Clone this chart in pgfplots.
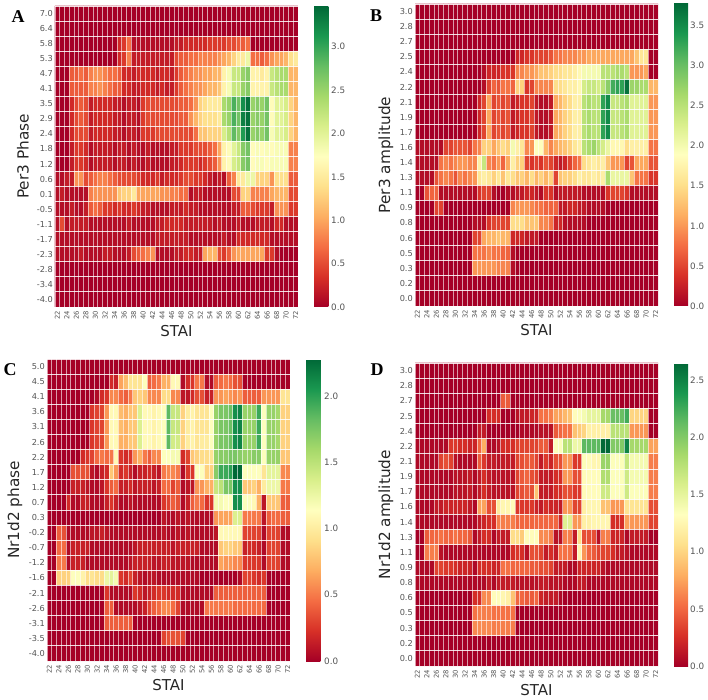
\documentclass[border=0pt]{standalone}
\usepackage{fontspec}
\setmainfont{DejaVu Sans}
\newfontfamily\letterfont{Liberation Serif}
\usepackage{pgfplots}
\pgfplotsset{compat=1.18}
\definecolor{ticktxt}{gray}{0.33}
\pgfplotsset{colormap={RdYlGn}{rgb255=(165,0,38) rgb255=(215,48,39) rgb255=(244,109,67) rgb255=(253,174,97) rgb255=(254,224,139) rgb255=(255,255,191) rgb255=(217,239,139) rgb255=(166,217,106) rgb255=(102,189,99) rgb255=(26,152,80) rgb255=(0,104,55)}}
\newcount\rowc \newcount\cellc
\newcommand\startpanel{\gdef\cur{}\global\rowc=19 }
\newcommand\hr[1]{\global\cellc=0
 \foreach \v in {#1}{\ifnum\cellc<51 \global\advance\cellc by 1 \xdef\cur{\cur (\the\numexpr\cellc+21\relax,\the\rowc)[\v]}\fi}
 \loop\ifnum\cellc<51 \global\advance\cellc by 1 \xdef\cur{\cur (\the\numexpr\cellc+21\relax,\the\rowc)[0]}\repeat
 \global\advance\rowc by -1 }
% Panel A: cell values in units of 0.1, rows from top to bottom, columns STAI 22..72
\startpanel
\hr{0}
\hr{0}
\hr{0,0,0,0,0,0,0,0,0,0, 0,0,0,3,4,7,1,1,1,1, 1,1,1,1,1,2,2,3,3,3, 3,3,4,4,4,4,5,5,6,6, 7}
\hr{0,0,0,0,0,0,0,0,0,0, 0,0,0,3,4,8,2,2,2,2, 2,2,2,2,2,5,6,6,7,7, 8,8,8,8,9,10,11,13,15,15, 19,7,7,6,7,9,10,10,11,14, 15}
\hr{0,0,0,6,6,7,6,8,9,9, 8,7,7,6,3,3,2,3,3,3, 3,2,3,3,2,4,6,7,8,9, 9,10,10,11,11,16,18,22,22,25, 26,16,16,15,16,22,23,24,24,11, 11}
\hr{0,0,0,6,6,6,6,8,8,9, 8,7,6,6,3,3,2,2,3,3, 3,2,3,2,2,4,6,7,8,9, 9,10,11,11,12,16,18,22,22,25, 26,16,16,16,16,22,23,24,24,11, 11}
\hr{0,0,0,3,5,6,5,2,3,3, 3,3,2,2,1,2,2,1,4,5, 5,5,5,5,5,5,6,6,7,9, 13,14,15,15,15,24,25,29,27,32, 34,25,26,25,27,17,20,20,21,13, 11}
\hr{0,0,0,3,5,6,5,2,3,3, 3,3,2,2,1,2,2,1,4,5, 5,5,5,5,5,5,6,6,9,11, 13,14,14,14,15,24,25,29,27,33, 34,25,26,25,27,17,20,20,21,13, 11}
\hr{0,0,0,3,5,5,5,2,3,3, 3,3,2,2,1,2,2,1,4,4, 4,5,5,5,5,5,5,5,5,7, 12,12,13,13,13,21,23,28,26,31, 34,25,26,25,27,18,20,20,21,13, 11}
\hr{0,0,0,2,4,4,3,1,2,2, 2,2,1,2,2,1,2,1,1,2, 1,1,1,1,2,2,4,4,4,5, 5,5,6,7,10,16,17,20,22,26, 27,17,18,17,18,17,18,18,18,8, 8}
\hr{0,0,0,2,4,4,3,1,2,2, 2,2,1,2,2,1,2,1,1,2, 1,1,1,1,2,2,3,4,4,4, 3,4,5,6,9,16,17,21,22,26, 27,17,18,18,17,18,18,18,18,8, 8}
\hr{1,1,2,2,9,9,5,6,7,8, 8,7,6,5,5,5,5,4,3,3, 3,4,2,3,3,3,4,5,5,4, 4,3,2,1,2,1,6,8,15,15, 19,19,13,13,13,9,14,14,14,6, 6}
\hr{1,2,1,1,1,1,1,8,9,9, 9,9,9,12,13,13,15,10,10,10, 10,10,9,9,8,8,7,7,1,2, 2,1,1,1,1,1,1,5,5,13, 13,8,8,8,8,10,11,11,11,5, 5}
\hr{1,1,1,2,1,1,2,6,7,6, 4,4,3,4,3,3,4,3,2,2, 1,1,1,1,2,2,2,3,2,2, 1,1,1,1,1,1,1,2,2,6, 6,5,4,4,4,2,9,9,9,4, 4}
\hr{1,5,1,2,2,2,2,1,1,1, 1,1,1,1,1,2,1,1,1,1, 1,2,2,3,3,3,3,2,2,2, 2,2,2,1,2,1,1,1,2,1, 1,1,2,2,2,1,3,3,1,1, 1}
\hr{1,1,1,1,1,1,1,1,1,1, 1,1,1,1,1,1,1,1,1,1, 1,2,2,2,2,2,2,2,1,1, 1,1,1,1,1,2,1,1,3,3, 3,3,3,3,3,1,1,1,1,1, 1}
\hr{1,1,1,1,1,2,1,1,1,1, 2,2,1,1,1,2,5,6,7,8, 9,1,1,1,1,2,2,3,3,2, 2,10,11,11,5,4,6,9,10,10, 10,10,10,10,4,4,1}
\hr{0}
\hr{0}
\hr{0}
\global\let\coordsA\cur
% Panel B: units of 0.1
\startpanel
\hr{0}
\hr{0}
\hr{0}
\hr{0,0,0,0,0,0,0,0,0,0, 0,0,0,0,0,0,0,0,0,0, 0,3,3,4,4,5,5,5,6,8, 8,9,9,9,10,10,11,11,11,11, 11,11,11,11,11,11,13,16,16,0, 0}
\hr{0,0,0,0,0,0,0,0,0,0, 0,0,0,0,1,3,3,3,4,4, 4,9,9,10,10,11,13,13,14,15, 15,16,16,17,18,20,20,20,20,25, 25,25,26,26,25,10,10,10,11,0, 0}
\hr{0,0,0,0,0,0,0,0,0,0, 0,0,0,0,1,5,7,6,8,8, 7,14,14,4,5,9,9,9,9,15, 15,16,17,17,18,23,24,24,23,25, 28,32,33,33,37,27,27,26,26,12, 12}
\hr{0,0,0,0,0,0,0,0,0,0, 0,0,0,3,5,11,5,6,5,6, 2,3,4,4,5,2,1,1,2,11, 12,14,15,17,17,25,26,25,25,33, 35,24,24,25,26,22,22,22,22,10, 10}
\hr{0,0,0,0,0,0,0,0,0,0, 0,0,0,3,5,11,5,6,5,6, 2,3,4,4,5,2,1,1,2,11, 12,14,15,17,17,25,26,25,25,33, 35,24,24,25,26,22,22,22,22,10, 10}
\hr{0,0,0,0,0,0,0,0,0,0, 0,0,0,3,5,11,5,6,5,6, 2,3,4,4,5,2,1,1,2,11, 12,14,15,17,17,25,26,25,25,33, 35,24,24,25,26,22,22,22,22,10, 10}
\hr{1,1,1,1,1,1,5,5,6,6, 6,5,8,9,14,14,11,13,15,14, 20,17,16,9,10,19,19,12,9,11, 12,13,14,16,17,25,26,27,25,23, 21,18,18,18,15,17,17,17,17,8, 8}
\hr{1,1,1,1,1,8,9,8,9,10, 10,9,9,17,24,9,8,10,7,11, 17,14,14,5,4,5,4,6,5,3, 2,3,5,7,8,15,16,17,16,17, 13,10,10,10,5,6,11,11,11,6, 6}
\hr{1,1,1,1,6,8,9,8,6,9, 8,9,10,16,17,16,14,16,13,16, 15,13,14,12,15,12,14,12,14,5, 13,14,14,15,17,16,16,17,16,17, 26,21,21,21,21,13,8,8,8,4, 4}
\hr{0,0,6,7,7,1,1,1,1,1, 1,1,1,4,5,5,1,0,0,1, 1,2,2,3,3,2,1,4,4,1, 2,2,2,2,2,1,1,1,1,1, 4,5,5,5,4,1,1,1,1,1, 1}
\hr{0,0,0,0,5,5,0,0,0,0, 0,0,0,0,0,0,0,0,0,0, 9,10,10,10,9,8,8,7,7,7, 2,2,3,3,2,2,1,1,1,1}
\hr{0,0,0,0,0,0,0,0,0,0, 0,0,1,1,1,4,5,5,5,5, 15,15,15,13,13,13,9,9,8,3, 3,1,1,1,1,1}
\hr{0,0,0,0,0,0,0,0,0,0, 0,0,5,5,11,12,12,13,12,12, 3,3,3,2,2,2}
\hr{0,0,0,0,0,0,0,0,0,0, 0,0,8,8,8,9,8,8,7,7, 1}
\hr{0,0,0,0,0,0,0,0,0,0, 0,0,10,10,10,10,10,9,9,9, 1}
\hr{0}
\hr{0}
\global\let\coordsB\cur
% Panel C: units of 0.05
\startpanel
\hr{0}
\hr{0,0,0,0,0,0,0,0,0,0, 0,0,0,4,3,13,15,19,19,19, 23,8,9,10,14,14,22,22,1,4, 5,10,10,1,1,8,9,10,9,7, 7}
\hr{0,0,0,0,0,0,0,0,0,0, 1,4,5,11,11,9,8,10,16,17, 16,11,11,11,18,18,11,11,2,2, 4,7,7,3,3,12,12,13,12,11, 12,8,8,8,8,12,12,12,12,19, 19}
\hr{0,0,0,0,0,0,0,0,0,5, 6,6,12,22,22,15,14,16,16,27, 22,22,21,22,23,37,29,29,17,20, 21,19,19,19,23,33,35,35,36,42, 43,33,33,33,39,23,33,33,32,17, 17}
\hr{0,0,0,0,0,0,0,0,0,5, 6,6,12,22,22,15,14,16,16,27, 22,22,21,22,23,37,29,29,17,20, 21,19,19,19,23,33,35,35,36,42, 43,33,33,33,39,23,33,33,32,17, 17}
\hr{0,0,0,0,0,0,0,0,0,5, 6,6,12,22,22,14,14,16,16,27, 22,22,21,22,23,37,28,28,17,20, 21,19,20,20,23,33,35,35,36,42, 43,33,33,33,39,23,33,33,32,17, 17}
\hr{0,0,0,0,0,0,0,4,5,6, 9,10,9,10,22,5,4,5,12,14, 10,8,11,11,23,23,24,24,4,6, 16,17,18,18,19,33,34,34,35,35, 34,33,33,34,34,23,33,33,33,16, 16}
\hr{0,0,0,0,0,7,7,7,7,2, 1,3,4,16,12,4,5,3,1,3, 3,4,3,2,10,11,11,10,1,5, 5,23,23,17,17,34,39,39,40,46, 46,23,23,23,23,19,26,26,26,11, 11}
\hr{0,0,0,0,0,3,3,3,2,1, 1,2,5,8,9,3,3,4,2,3, 3,3,2,3,9,9,6,8,1,2, 2,12,12,14,14,29,30,35,35,42, 42,16,16,17,14,20,25,25,25,10, 10}
\hr{0,0,0,0,4,1,1,3,3,1, 1,1,3,5,3,1,1,2,1,1, 1,1,1,1,5,6,8,7,1,3, 8,10,9,5,5,24,24,23,23,42, 42,23,23,22,14,2,16,16,16,8, 8}
\hr{0,0,0,0,0,0,0,0,0,0, 0,0,0,0,0,0,0,0,0,0, 0,0,0,0,2,1,1,2,1,2, 1,1,1,1,1,12,13,13,13,27, 27,10,10,10,10,2,8,9,9,8, 8}
\hr{0,0,8,7,1,1,1,1,1,2, 2,3,2,1,1,1,1,1,1,1, 1,1,1,1,2,1,1,2,1,2, 1,1,1,1,1,2,22,22,22,22, 22,6,6,6,6,1,6,6,6,1, 1}
\hr{0,0,9,9,1,3,3,3,3,1, 1,1,1,1,1,1,1,1,2,3, 3,3,3,3,3,3,2,3,3,3, 3,3,1,1,1,1,16,17,17,16, 16,3,4,4,3,1,6,6,6,1, 1}
\hr{0,0,10,10,1,3,3,3,1,1, 1,1,1,1,1,1,1,2,3,3, 3,3,2,2,3,3,2,2,2,2, 1,1,1,1,1,1,13,12,12,11, 11,5,5,5,5,1,6,6,6,1, 1}
\hr{0,0,17,17,17,23,23,21,18,19, 18,18,25,26,24,5,4,6,3,2, 1,2,2,1,1,1,1,1,1,1, 1,1,0,0,0,0,0,0,0,0, 1,6,6,5,4,5}
\hr{0,0,0,0,0,0,0,0,0,0, 0,0,5,1,1,1,1,1,5,4, 2,3,4,5,5,4,4,4,1,1, 1,1,1,1,1,8,8,8,8,8, 8,8,8,8,8,8}
\hr{0,0,0,0,0,0,0,0,0,0, 0,0,8,8,1,1,1,1,1,2, 3,6,8,9,11,11,9,6,1,1, 1,1,1,10,10,10,10,10,10,9, 9,9,9,9,9,9}
\hr{0,0,0,0,0,0,0,0,0,0, 0,0,8,8,8,8,8,8}
\hr{0,0,0,0,0,0,0,0,0,0, 0,0,0,0,0,0,0,0,0,0, 0,0,0,0,6,7,7,7,6}
\hr{0}
\global\let\coordsC\cur
% Panel D: units of 0.05
\startpanel
\hr{0}
\hr{0}
\hr{0,0,0,0,0,0,0,0,0,0, 0,0,0,0,0,0,0,0,9,9}
\hr{0,0,0,0,0,0,0,0,0,0, 0,0,0,0,0,5,5,5,0,0, 0,2,3,3,4,4,11,11,12,15, 15,17,18,26,27,28,30,30,30,37, 37,42,42,42,45,20,20,20,20,0, 0}
\hr{0,0,0,0,0,0,0,0,0,0, 0,0,0,3,3,0,0,0,0,0, 0,0,1,1,1,1,2,2,2,9, 10,11,11,18,19,20,24,24,24,24, 24,35,35,35,35,14,14,14,14,0, 0}
\hr{1,1,1,1,1,1,1,6,6,5, 5,4,4,10,16,1,1,2,5,5, 5,7,7,7,7,7,9,9,3,27, 27,35,35,29,29,43,43,43,43,53, 53,40,40,40,50,37,37,37,37,15, 15}
\hr{1,1,1,1,1,7,8,7,2,1, 1,1,1,9,6,3,3,2,3,3, 3,7,8,9,9,7,3,6,4,8, 8,14,14,6,6,27,26,25,25,38, 38,27,27,27,34,28,28,28,28,12, 12}
\hr{1,1,1,1,1,1,1,1,2,2, 2,3,1,3,5,3,2,2,2,2, 2,7,9,10,8,7,3,3,3,5, 5,14,14,8,8,26,26,26,26,36, 36,27,27,27,33,28,28,28,28,12, 12}
\hr{1,1,1,1,1,1,1,1,2,2, 2,3,1,3,5,3,2,2,2,2, 2,7,8,9,8,18,3,3,3,5, 5,8,8,6,6,26,26,26,26,33, 33,27,27,27,33,27,27,27,27,12, 12}
\hr{1,1,1,1,3,3,4,4,4,4, 4,3,1,15,15,8,8,23,25,25, 26,6,6,6,6,4,3,5,4,4, 3,14,14,7,7,24,25,25,25,18, 18,14,14,14,22,22,22,22,22,8, 8}
\hr{1,1,1,1,1,1,1,1,1,1, 1,1,1,3,4,5,5,12,12,12, 12,10,10,10,10,10,10,10,10,10, 4,31,31,14,14,24,24,25,25,25, 25,5,5,5,15,14,14,14,14,7, 7}
\hr{0,0,9,10,10,11,10,10,11,10, 10,9,1,3,5,5,1,3,3,3, 21,21,19,26,26,26,13,13,12,2, 2,12,12,3,21,8,8,8,2,12, 12,4,4,4,1,3,3,3,3,0, 0}
\hr{0,0,12,12,12,2,1,1,1,1, 1,1,1,1,1,1,1,1,1,1, 5,6,5,2,8,8,7,3,5,3, 11,11,11,3,25,14,10,9,7,7, 7,5,3,3,2,1,1,1,1,1, 1}
\hr{1,1,1,1,7,7,6,6,5,4, 4,4,1,5,5,5,4,4,11,11, 10,10,10,10,9,9,8,8,7,3, 3,3,1,1,4,4,4,4,4,2, 1,1,1,1,1,1,1,1,1,1, 1}
\hr{1,1,1,1,1,1,1,1,1,1, 1,1,1,1,1,3,1,3,3,3, 3,2,2,2,2,2,3,3,2,2, 2,1,1,1,3,3,1,1,1,1, 1,1,1,1,1,1,1,1,1,1, 1}
\hr{0,0,0,0,0,0,0,0,0,0, 0,0,5,5,13,13,26,26,25,24, 18,10,10,9,9,10,4,3,3,3, 1}
\hr{0,0,0,0,0,0,0,0,0,0, 0,0,11,12,12,12,11,11,11,11, 11}
\hr{0,0,0,0,0,0,0,0,0,0, 0,0,13,13,13,13,12,12,12,12, 12}
\hr{0}
\hr{0}
\global\let\coordsD\cur
\pgfplotsset{
 heat/.style={matrix plot*, mesh/cols=51, point meta=explicit},
 panel/.style={
  scale only axis, width=243pt, axis on top,
  xmin=21.5, xmax=72.5, ymin=-0.5, ymax=19.5,
  xtick={22,24,...,72},
  xticklabels={22,24,26,28,30,32,34,36,38,40,42,44,46,48,50,52,54,56,58,60,62,64,66,68,70,72},
  ytick={0,1,...,19},
  minor xtick={21.5,22.5,...,72.5},
  minor ytick={-0.5,0.5,...,19.5},
  xminorgrids, yminorgrids,
  minor x grid style={white,opacity=0.6,line width=0.8pt},
  minor y grid style={white,opacity=0.85,line width=0.9pt},
  major tick length=0pt, minor tick length=0pt,
  axis line style={draw=none},
  colormap name=RdYlGn,
  xticklabel style={rotate=90,anchor=east,font=\fontsize{6.8}{7}\selectfont,text=ticktxt,inner sep=0pt,xshift=-4pt},
  yticklabel style={font=\fontsize{8.2}{9}\selectfont,text=ticktxt,inner xsep=1pt,xshift=-1pt},
  xlabel=STAI,
  xlabel style={at={(axis description cs:0.5,0)},anchor=center,yshift=-24pt,font=\fontsize{15}{16}\selectfont,text=black!85},
  ylabel style={font=\fontsize{15.3}{16}\selectfont,text=black!85},
  colorbar,
 },
 cb/.style n args={4}{colorbar style={
   at={(parent axis.south east)},anchor=south west,xshift=7.5pt,
   scale only axis,width=#1,height=#2,
   ytick={#3},yticklabels={#4},
   major tick length=0pt,
   axis line style={draw=none},
   yticklabel pos=right,
   yticklabel style={font=\fontsize{8.8}{9}\selectfont,text=ticktxt,inner xsep=1pt,xshift=1pt},
 }},
}
\begin{document}
\begin{tikzpicture}
\path[use as bounding box] (0pt,0pt) rectangle (708pt,699pt);
\begin{axis}[panel, at={(55pt,392pt)}, anchor=south west, height=301pt,
  yticklabels={-4.0,-3.4,-2.8,-2.3,-1.7,-1.1,-0.5,0.1,0.6,1.2,1.8,2.4,2.9,3.5,4.1,4.7,5.3,5.8,6.4,7.0},
  ylabel={Per3 Phase}, ylabel style={at={(axis description cs:0,0.5)},anchor=center,yshift=32pt},
  point meta min=0, point meta max=34.7,
  cb={15pt}{301pt}{0,5,10,15,20,25,30}{0.0,0.5,1.0,1.5,2.0,2.5,3.0}]
\edef\tmp{\noexpand\addplot[heat] coordinates {\coordsA};}\tmp
\end{axis}
\begin{axis}[panel, at={(415pt,393pt)}, anchor=south west, height=302pt,
  yticklabels={0.0,0.2,0.3,0.5,0.6,0.8,0.9,1.1,1.3,1.4,1.6,1.7,1.9,2.1,2.2,2.4,2.5,2.7,2.8,3.0},
  ylabel={Per3 amplitude}, ylabel style={at={(axis description cs:0,0.5)},anchor=center,yshift=29pt},
  point meta min=0, point meta max=37.8,
  cb={14pt}{303pt}{0,5,10,15,20,25,30,35}{0.0,0.5,1.0,1.5,2.0,2.5,3.0,3.5}]
\edef\tmp{\noexpand\addplot[heat] coordinates {\coordsB};}\tmp
\end{axis}
\begin{axis}[panel, at={(47pt,38pt)}, anchor=south west, height=302pt,
  yticklabels={-4.0,-3.5,-3.1,-2.6,-2.1,-1.6,-1.2,-0.7,-0.2,0.3,0.7,1.2,1.7,2.2,2.6,3.1,3.6,4.1,4.5,5.0},
  ylabel={Nr1d2 phase}, ylabel style={at={(axis description cs:0,0.5)},anchor=center,yshift=32pt},
  point meta min=0, point meta max=45.6,
  cb={16pt}{302pt}{0,10,20,30,40}{0.0,0.5,1.0,1.5,2.0}]
\edef\tmp{\noexpand\addplot[heat] coordinates {\coordsC};}\tmp
\end{axis}
\begin{axis}[panel, at={(415pt,33pt)}, anchor=south west, height=303pt,
  yticklabels={0.0,0.2,0.3,0.5,0.6,0.8,0.9,1.1,1.3,1.4,1.6,1.7,1.9,2.1,2.2,2.4,2.5,2.7,2.8,3.0},
  ylabel={Nr1d2 amplitude}, ylabel style={at={(axis description cs:0,0.5)},anchor=center,yshift=29pt},
  point meta min=0, point meta max=53,
  cb={14pt}{303pt}{0,10,20,30,40,50}{0.0,0.5,1.0,1.5,2.0,2.5}]
\edef\tmp{\noexpand\addplot[heat] coordinates {\coordsD};}\tmp
\end{axis}
\node[font=\letterfont\bfseries\fontsize{18}{18}\selectfont] at (18pt,682pt) {A};
\node[font=\letterfont\bfseries\fontsize{18}{18}\selectfont] at (376pt,683pt) {B};
\node[font=\letterfont\bfseries\fontsize{18}{18}\selectfont] at (10pt,329pt) {C};
\node[font=\letterfont\bfseries\fontsize{18}{18}\selectfont] at (377pt,329pt) {D};
\end{tikzpicture}
\end{document}
